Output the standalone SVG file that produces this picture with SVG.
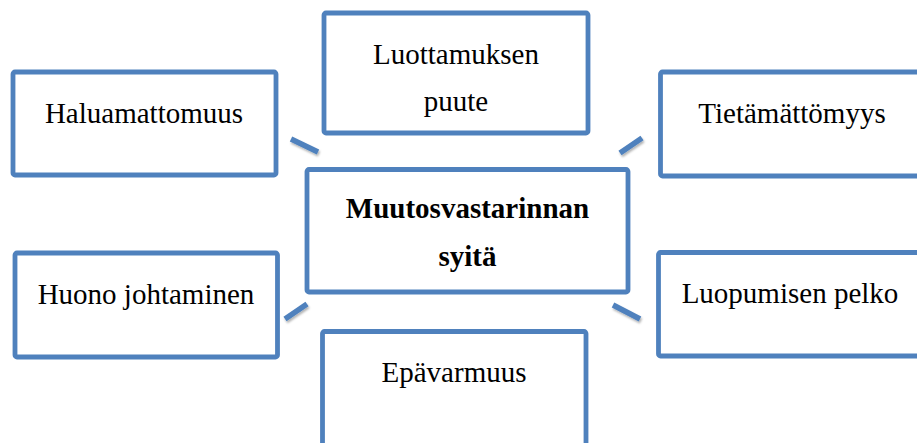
<svg xmlns="http://www.w3.org/2000/svg" width="917" height="443" viewBox="0 0 917 443">
<defs>
<filter id="sh" x="-50%" y="-50%" width="200%" height="200%">
<feDropShadow dx="1" dy="2" stdDeviation="1.2" flood-color="#000" flood-opacity="0.3"/>
</filter>
<style>
.box{fill:#fff;stroke:#4F81BD;stroke-width:4.8}
.t{font-family:"Liberation Serif","Times New Roman",serif;font-size:29px;fill:#000;text-anchor:middle}
.b{font-weight:bold}
.c{stroke:#4F81BD;stroke-width:5.5;fill:none;filter:url(#sh)}
</style>
</defs>
<rect width="917" height="443" fill="#fff"/>
<g id="connectors">
<line class="c" x1="291" y1="139" x2="318" y2="152"/>
<line class="c" x1="456" y1="145" x2="456" y2="156"/>
<line class="c" x1="620" y1="153" x2="642" y2="138"/>
<line class="c" x1="285" y1="319" x2="307" y2="304"/>
<line class="c" x1="457" y1="304" x2="457" y2="316"/>
<line class="c" x1="613" y1="305" x2="640" y2="319"/>
</g>
<g id="haluamattomuus">
<rect class="box" x="13" y="72" width="263" height="103" rx="2"/>
<text class="t" x="144" y="123">Haluamattomuus</text>
</g>
<g id="luottamuksen">
<rect class="box" x="324" y="13" width="264" height="120" rx="2"/>
<text class="t" x="456" y="64">Luottamuksen</text>
<text class="t" x="456" y="111">puute</text>
</g>
<g id="tietamattomyys">
<rect class="box" x="660.5" y="72" width="270" height="104" rx="2"/>
<text class="t" x="792" y="123">Tietämättömyys</text>
</g>
<g id="center">
<rect class="box" x="307" y="169.5" width="321" height="122.5" rx="2"/>
<text class="t b" x="467.5" y="218">Muutosvastarinnan</text>
<text class="t b" x="467.5" y="266">syitä</text>
</g>
<g id="huono">
<rect class="box" x="15" y="253" width="262.5" height="104" rx="2"/>
<text class="t" x="146" y="304">Huono johtaminen</text>
</g>
<g id="luopumisen">
<rect class="box" x="658.5" y="252.5" width="270" height="103.5" rx="2"/>
<text class="t" x="790" y="303">Luopumisen pelko</text>
</g>
<g id="epavarmuus">
<rect class="box" x="322.5" y="331.5" width="263.5" height="130" rx="2"/>
<text class="t" x="454" y="382">Epävarmuus</text>
</g>
</svg>
